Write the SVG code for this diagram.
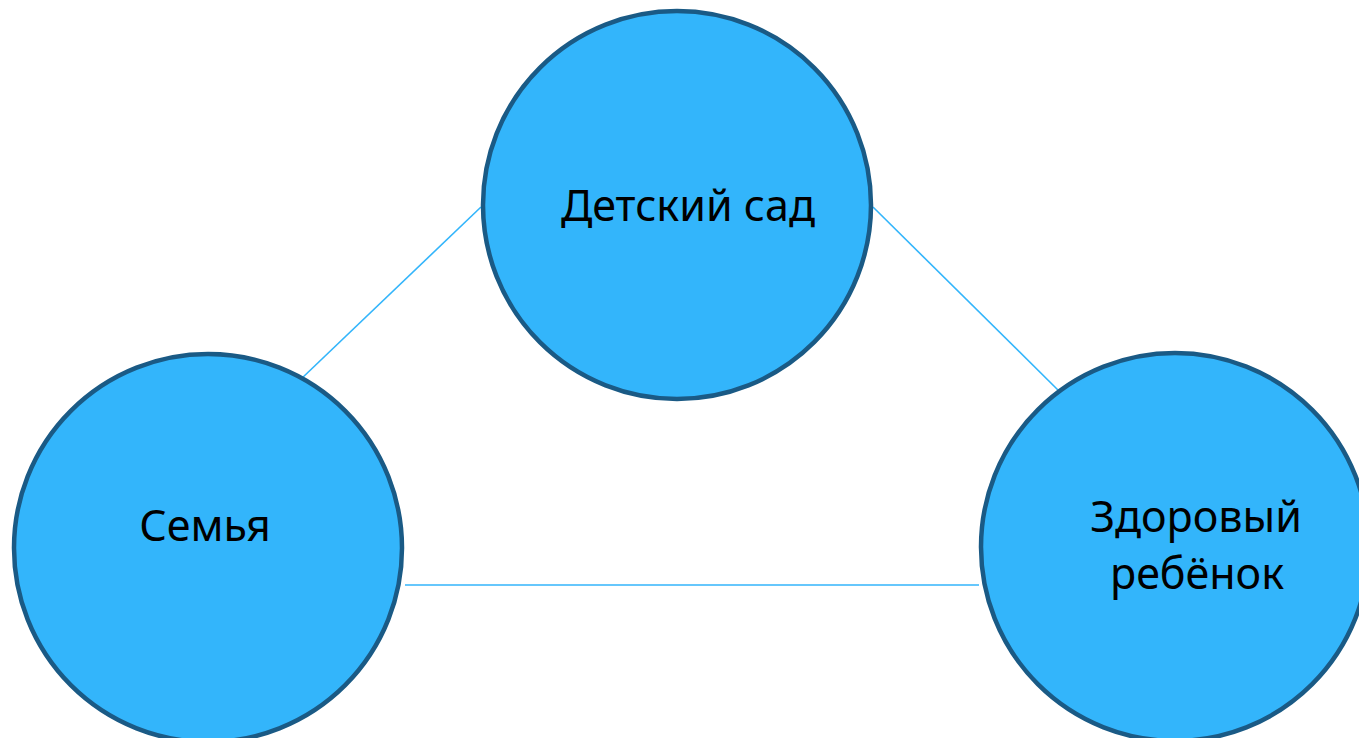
<svg xmlns="http://www.w3.org/2000/svg" width="1359" height="738" viewBox="0 0 1359 738">
<style>
.node{fill:#33b5fb;stroke:#1a5a85;stroke-width:4.5}
.lbl{font-family:"Noto Sans","Open Sans","DejaVu Sans",sans-serif;font-size:43px;fill:#000;text-anchor:middle}
.edge{stroke:#33b5fb;stroke-width:1.6;fill:none}
</style>
<rect width="1359" height="738" fill="#fff"/>
<g id="connectors">
<line class="edge" x1="300" y1="380" x2="481" y2="207"/>
<line class="edge" x1="873" y1="207" x2="1063" y2="395"/>
<line class="edge" x1="405" y1="585" x2="979" y2="585"/>
</g>
<g id="node-kindergarten">
<circle class="node" cx="677" cy="205" r="194"/>
<text class="lbl" x="688" y="221">Детский сад</text>
</g>
<g id="node-family">
<circle class="node" cx="208" cy="548" r="194"/>
<text class="lbl" x="205" y="541">Семья</text>
</g>
<g id="node-child">
<circle class="node" cx="1175" cy="547" r="194"/>
<text class="lbl" x="1196" y="532">Здоровый</text>
<text class="lbl" x="1197" y="589">ребёнок</text>
</g>
</svg>
